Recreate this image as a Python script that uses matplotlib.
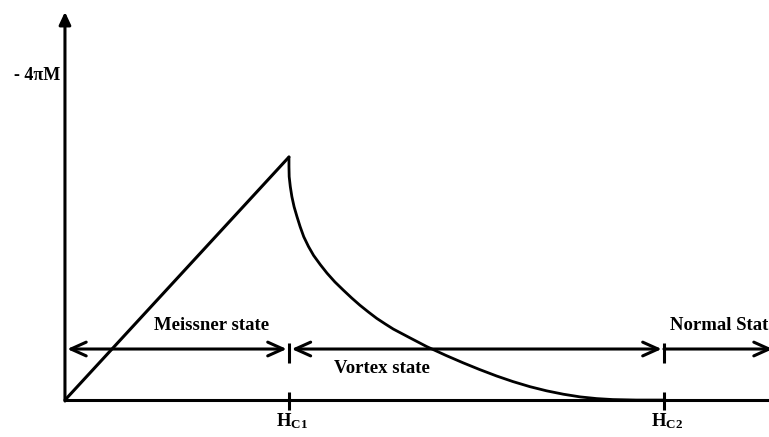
import matplotlib
matplotlib.use("Agg")
import matplotlib.pyplot as plt
from matplotlib.patches import FancyArrowPatch

plt.rcParams['font.family'] = ['Liberation Serif', 'DejaVu Serif']
plt.rcParams['mathtext.fontset'] = 'custom'
plt.rcParams['mathtext.rm'] = 'Liberation Serif:bold'
plt.rcParams['mathtext.it'] = 'Liberation Serif:bold'
plt.rcParams['mathtext.bf'] = 'Liberation Serif:bold'

# ---- data (H in units of Hc1, -4piM in units of peak value) ----
Hc1 = 1.0
Hc2 = 2.674
meissner_H = [0.0, 1.0]
meissner_M = [0.0, 1.0]
vortex_H = [1.0, 1.0, 1.001, 1.006, 1.013, 1.023, 1.036, 1.05, 1.066, 1.087,
            1.110, 1.14, 1.17, 1.205, 1.243, 1.28, 1.317, 1.355, 1.392, 1.43,
            1.466, 1.54, 1.615, 1.70, 1.778, 1.85, 1.927, 2.0, 2.076, 2.15,
            2.225, 2.30, 2.374, 2.446, 2.55, 2.674]
vortex_M = [1.0, 0.96, 0.919, 0.878, 0.837, 0.795, 0.754, 0.713, 0.672, 0.632,
            0.595, 0.557, 0.522, 0.486, 0.452, 0.420, 0.390, 0.362, 0.336, 0.313,
            0.292, 0.256, 0.220, 0.184, 0.153, 0.126, 0.099, 0.076, 0.055, 0.038,
            0.024, 0.013, 0.006, 0.002, 0.0, 0.0]
state_labels = ['Meissner state', 'Vortex state', 'Normal State']
tick_labels = ['$H_{C1}$', '$H_{C2}$']
y_label = '- 4πM'

# ---- figure ----
fig = plt.figure(figsize=(7.69, 4.37), dpi=100)
ax = fig.add_axes([0, 0, 1, 1])
ax.set_xlim(-0.290, 3.143)
ax.set_ylim(-0.152, 1.646)
ax.axis('off')

lw = 2.2
arrow_y = 0.210
x_end = 3.16

# axes
ax.plot([0, x_end], [0, 0], color='black', lw=lw, solid_capstyle='butt', clip_on=False)
yax = FancyArrowPatch((0, -0.004), (0, 1.597), arrowstyle='-|>,head_length=0.75,head_width=0.35',
                      mutation_scale=10, lw=lw, color='black', shrinkA=0, shrinkB=0)
ax.add_patch(yax)

# curves
ax.plot(meissner_H, meissner_M, color='black', lw=lw, solid_joinstyle='round', solid_capstyle='round')
ax.plot(vortex_H, vortex_M, color='black', lw=2.0, solid_joinstyle='round', solid_capstyle='round')

# state arrows
segments = [(0.01, Hc1 - 0.01), (Hc1 + 0.012, Hc2 - 0.01), (Hc2, x_end)]
styles = ['<->,head_length=1.0,head_width=0.45', '<->,head_length=1.0,head_width=0.45',
          '->,head_length=1.0,head_width=0.45']
for (a, b), style in zip(segments, styles):
    p = FancyArrowPatch((a, arrow_y), (b, arrow_y), arrowstyle=style, mutation_scale=11,
                        lw=lw, color='black', shrinkA=0, shrinkB=0)
    ax.add_patch(p)

# tick marks
for hx in [Hc1, Hc2]:
    ax.plot([hx, hx], [arrow_y - 0.058, arrow_y + 0.025], color='black', lw=lw, solid_capstyle='butt')
    ax.plot([hx, hx], [-0.042, 0.033], color='black', lw=lw, solid_capstyle='butt')

# labels
fs = 13.5
ax.text(0.656, 0.308, state_labels[0], ha='center', va='center', fontsize=fs, fontweight='bold')
ax.text(1.415, 0.128, state_labels[1], ha='center', va='center', fontsize=fs, fontweight='bold')
ax.text(2.70, 0.308, state_labels[2], ha='left', va='center', fontsize=fs, fontweight='bold')
ax.text(Hc1 + 0.013, -0.088, tick_labels[0], ha='center', va='center', fontsize=fs)
ax.text(Hc2 + 0.013, -0.088, tick_labels[1], ha='center', va='center', fontsize=fs)
ax.text(-0.022, 1.337, y_label, ha='right', va='center', fontsize=13, fontweight='bold')

fig.savefig('out.png', dpi=100)
